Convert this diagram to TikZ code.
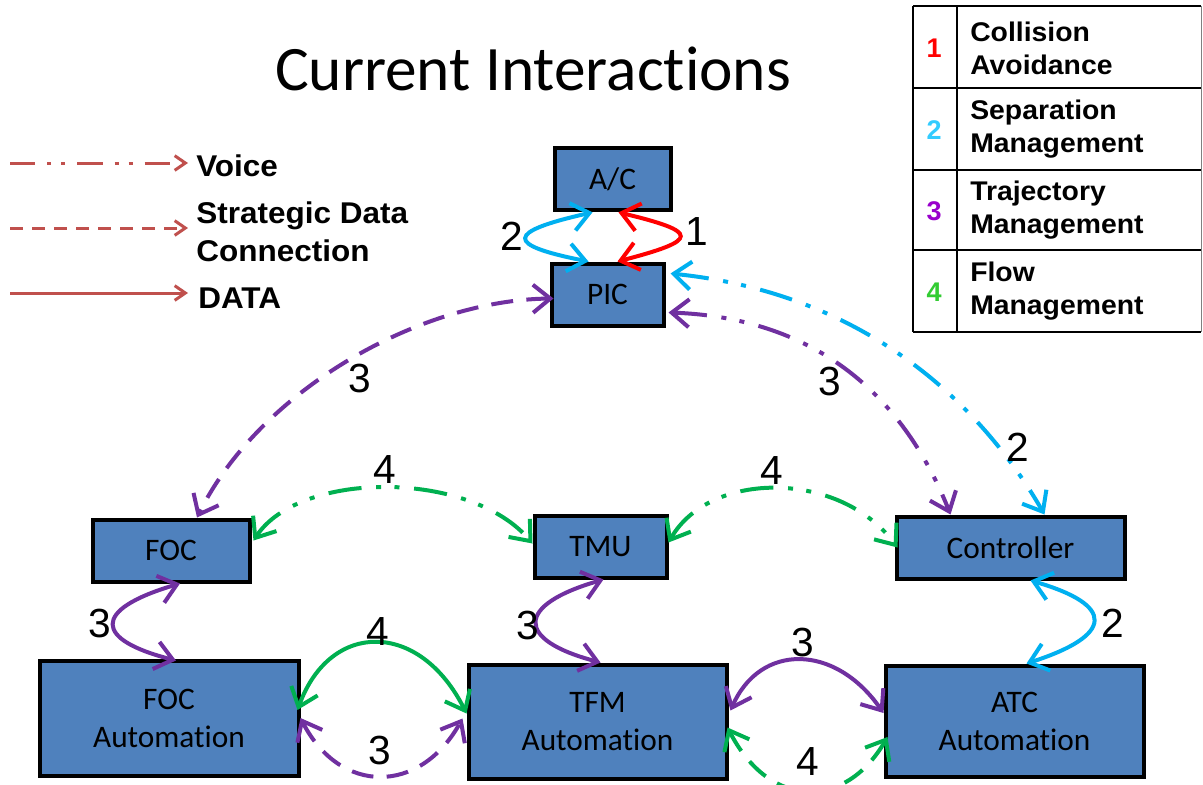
\documentclass[tikz,border=0pt]{standalone}
\usepackage{fontspec}
\setmainfont{Liberation Sans}
\newfontfamily\calibri[Ligatures=NoCommon]{Carlito}
\newfontfamily\widesans[FakeStretch=1.05]{Liberation Sans}
\usetikzlibrary{arrows.meta,calc,shadows}
\definecolor{boxblue}{HTML}{4F81BD}
\definecolor{legred}{HTML}{C0504D}
\definecolor{cpurple}{HTML}{7030A0}
\definecolor{ccyan}{HTML}{00B0F0}
\definecolor{cgreen}{HTML}{00B050}
\definecolor{cred}{HTML}{FF0000}
\definecolor{tone}{HTML}{FF0000}
\definecolor{ttwo}{HTML}{33CCFF}
\definecolor{tthree}{HTML}{9900CC}
\definecolor{tfour}{HTML}{33CC33}
\tikzset{
  box/.style={draw=black, fill=boxblue, line width=3pt, align=center, inner sep=0pt,
    font=\calibri\fontsize{23.5}{28.5}\selectfont, text=black,
    drop shadow={opacity=0.3, shadow xshift=1.5pt, shadow yshift=-1.5pt}},
  conn/.style={line width=3pt,
    {Straight Barb[length=13pt,width=21pt]}-{Straight Barb[length=13pt,width=21pt]}},
  voice/.style={dash pattern=on 25pt off 11pt on 3.75pt off 10pt on 3.75pt off 11pt},
  strat/.style={dash pattern=on 16.5pt off 10pt},
  legarrow/.style={draw=legred, line width=2.25pt, -{Straight Barb[length=8pt,width=11pt]}},
  legtext/.style={font=\widesans\bfseries\fontsize{22.5}{28.5}\selectfont, inner sep=0pt, align=left},
  num/.style={font=\fontsize{30.5}{36}\selectfont, inner sep=0pt},
  tabnum/.style={font=\bfseries\fontsize{20.25}{24.75}\selectfont, inner sep=0pt},
  tabtext/.style={font=\widesans\bfseries\fontsize{20.25}{24.75}\selectfont, inner sep=0pt, align=left, anchor=west},
  tabline/.style={line width=2pt, draw=black}
}
\begin{document}
\begin{tikzpicture}[x=0.75pt,y=-0.75pt]
\fill[white] (0,0) rectangle (1203,785);
\useasboundingbox (0,0) rectangle (1203,785);

% title
\node[font=\calibri\fontsize{47.5}{56}\selectfont, anchor=base, inner sep=0pt] (title) at (533,90) {Current Interactions};

% legend
\node[legtext, anchor=base west] (lvoice) at (196,176) {Voice};
\node[legtext, anchor=west] (lstrat) at (196,231.5) {Strategic Data\\Connection};
\node[legtext, anchor=base west] (ldata) at (198,308) {DATA};
\coordinate (lv0) at (10,163); \coordinate (lv1) at (188,163);
\coordinate (ls0) at (10,228); \coordinate (ls1) at (188,228);
\coordinate (ld0) at (10,293); \coordinate (ld1) at (188,293);
\draw[legarrow, dash pattern=on 19pt off 9pt on 3pt off 7.5pt on 3pt off 9pt] (lv0) -- (lv1);
\draw[legarrow, dash pattern=on 10pt off 6.5pt] (ls0) -- (ls1);
\draw[legarrow] (ld0) -- (ld1);

% table
\draw[tabline] (913,6) -- (1201,6);
\draw[tabline] (913,88) -- (1201,88);
\draw[tabline] (913,170) -- (1201,170);
\draw[tabline] (913,250) -- (1201,250);
\draw[tabline] (913,332) -- (1201,332);
\draw[tabline] (913,6) -- (913,332);
\draw[tabline] (957,6) -- (957,332);
\draw[line width=1pt, draw=gray] (1201.5,6) -- (1201.5,332);
\node[tabnum, text=tone] (t1) at (934,48) {1};
\node[tabnum, text=ttwo] (t2) at (934,130) {2};
\node[tabnum, text=tthree] (t3) at (934,211) {3};
\node[tabnum, text=tfour] (t4) at (934,292) {4};
\node[tabtext] (tt1) at (970,48) {Collision\\Avoidance};
\node[tabtext] (tt2) at (970,129) {Separation\\Management};
\node[tabtext] (tt3) at (970,210) {Trajectory\\Management};
\node[tabtext] (tt4) at (970,291) {Flow\\Management};

% boxes
\node[box, minimum width=87pt, minimum height=47pt] (AC) at (612.5,179) {A/C};
\node[box, minimum width=84pt, minimum height=46.5pt] (PIC) at (607.5,294.5) {PIC};
\node[box, minimum width=117.75pt, minimum height=46.5pt] (FOC) at (171,550.5) {FOC};
\node[box, minimum width=99pt, minimum height=46.5pt] (TMU) at (600.5,546.5) {TMU};
\node[box, minimum width=171pt, minimum height=46.5pt] (CTL) at (1010.5,547.5) {Controller};
\node[box, minimum width=194.25pt, minimum height=86.25pt] (FOCA) at (169,718) {FOC\\Automation};
\node[box, minimum width=193.5pt, minimum height=85.5pt] (TFMA) at (597.5,721.5) {TFM\\Automation};
\node[box, minimum width=193.5pt, minimum height=83.25pt] (ATCA) at (1014.5,721) {ATC\\Automation};

% connectors
\draw[conn, cred] ($(PIC.north)+(10,0)$) .. controls (700,240) and (700,232) .. ($(AC.south)+(6,0)$);
\draw[conn, ccyan] ($(PIC.north)+(-19,0)$) .. controls (505,245) and (505,232) .. ($(AC.south)+(-20,0)$);
\draw[conn, ccyan, voice] ($(PIC.east)+(5,-21)$) .. controls (880,295) and (990,420) .. ($(CTL.north)+(34,0)$);
\draw[conn, cpurple, voice] ($(PIC.east)+(3,18)$) .. controls (820,318) and (905,400) .. ($(CTL.north)+(-60,0)$);
\draw[conn, cpurple, strat] ($(PIC.west)+(4,4)$) .. controls (420,300) and (260,390) .. ($(FOC.north)+(26,0)$);
\draw[conn, cgreen, voice] ($(FOC.east)+(2,-10)$) .. controls (300,470) and (470,470) .. ($(TMU.west)+(0,-3)$);
\draw[conn, cgreen, voice] ($(TMU.east)+(0,-4)$) .. controls (710,470) and (840,470) .. ($(CTL.west)+(3,0)$);
\draw[conn, cpurple] ($(FOC.south)+(9,0)$) .. controls (90,610) and (95,640) .. ($(FOCA.north)+(7,2)$);
\draw[conn, cgreen] ($(FOCA.east)+(-3,-8)$) .. controls (330,620) and (420,620) .. ($(TFMA.west)+(0,-8)$);
\draw[conn, cpurple, strat] ($(FOCA.east)+(0,0)$) .. controls (340,795) and (420,795) .. ($(TFMA.west)+(-4,-3)$);
\draw[conn, cpurple] ($(TMU.south)+(3,0)$) .. controls (515,605) and (515,640) .. ($(TFMA.north)+(3,0)$);
\draw[conn, cpurple] ($(TFMA.east)+(2,-11)$) .. controls (760,643) and (835,643) .. ($(ATCA.west)+(0,-8)$);
\draw[conn, cgreen, strat] ($(TFMA.east)+(-1,6)$) .. controls (770,810) and (845,810) .. ($(ATCA.west)+(4,16)$);
\draw[conn, ccyan] ($(CTL.south)+(20,0)$) .. controls (1115,605) and (1115,635) .. ($(ATCA.north)+(12,0)$);

% labels
\node[num] (n2a) at (512,236) {2};
\node[num] (n1a) at (697,232) {1};
\node[num] (n3a) at (360,378) {3};
\node[num] (n3b) at (830,381) {3};
\node[num] (n2b) at (1018,447) {2};
\node[num] (n4a) at (385,470) {4};
\node[num] (n4b) at (772,471) {4};
\node[num] (n3c) at (100,623) {3};
\node[num] (n4c) at (378,632) {4};
\node[num] (n3d) at (380,750) {3};
\node[num] (n3e) at (528,625) {3};
\node[num] (n3f) at (803,642) {3};
\node[num] (n4d) at (808,762) {4};
\node[num] (n2c) at (1113,623) {2};
\end{tikzpicture}
\end{document}
